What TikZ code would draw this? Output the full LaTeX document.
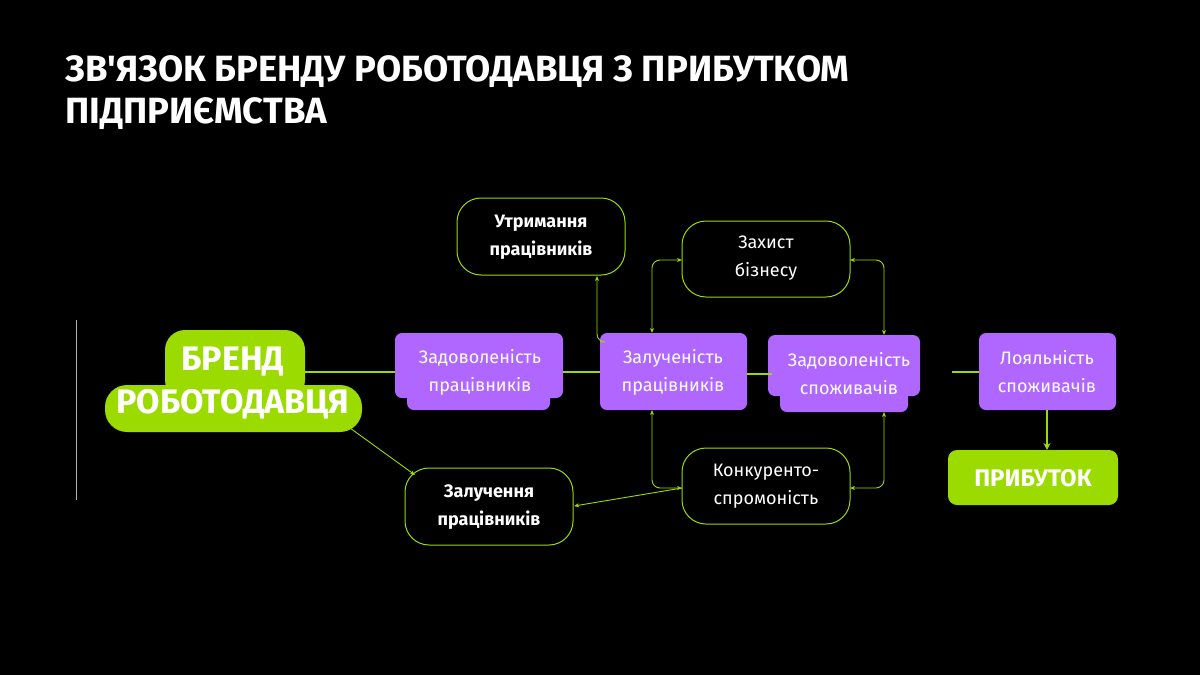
\documentclass[tikz,border=0pt]{standalone}
\usepackage{fontspec}
\setmainfont{Fira Sans}
\newfontfamily\plainfira{Fira Sans}[Ligatures=ResetAll]
\usetikzlibrary{arrows.meta}
\definecolor{lime}{HTML}{9BDB00}
\definecolor{purp}{HTML}{B067FF}
\begin{document}
\begin{tikzpicture}[x=1pt,y=-1pt,
  lbl/.style={text=white,align=center,font=\fontsize{18}{28}\selectfont},
  obox/.style={draw=lime,line width=1pt,fill=black,rounded corners=24pt},
  pbox/.style={fill=purp,rounded corners=7pt},
  thick/.style={draw=lime,line width=2.2pt},
  thin/.style={draw=lime,line width=0.9pt,rounded corners=8pt},
  tip/.style={-{Stealth[length=5pt,width=4pt]}},
  btip/.style={{Stealth[length=5pt,width=4pt]}-{Stealth[length=5pt,width=4pt]}}]
\fill[black] (0,0) rectangle (1200,675);
\useasboundingbox (0,0) rectangle (1200,675);
\node[anchor=north west,text=white,align=left,font=\plainfira\fontsize{36.5}{42}\selectfont\bfseries] (title) at (62,52) {ЗВ'ЯЗОК БРЕНДУ РОБОТОДАВЦЯ З ПРИБУТКОМ\\ПІДПРИЄМСТВА};
\draw[gray!60,line width=0.6pt] (76,320) -- (76,500);
% brand
\fill[lime,rounded corners=20pt] (165,330) rectangle (305,400);
\fill[lime,rounded corners=22pt] (105,385) rectangle (362,432);
\node[text=white,align=center,font=\fontsize{34}{43}\selectfont\bfseries] (brand) at (233,383) {БРЕНД\\РОБОТОДАВЦЯ};
\coordinate (brandR) at (305,372);
% purple boxes
\fill[pbox] (395,333) rectangle (563,398);
\fill[pbox] (407,360) rectangle (550,410);
\node[lbl] (zp) at (480,372) {Задоволеність\\працівників};
\fill[pbox] (600,333) rectangle (747,410);
\node[lbl] (zl) at (673,372) {Залученість\\працівників};
\fill[pbox] (768,335) rectangle (920,396);
\fill[pbox] (780,360) rectangle (908,412);
\node[lbl] (zs) at (849,374) {Задоволеність\\споживачів};
\fill[pbox] (979,333) rectangle (1116,410);
\node[lbl] (lo) at (1047,372) {Лояльність\\споживачів};
\fill[lime,rounded corners=9pt] (948,450) rectangle (1118,505);
\node[text=white,font=\fontsize{24}{28}\selectfont\bfseries] (pr) at (1033,478) {ПРИБУТОК};
% outlined
\draw[obox] (457,198) rectangle (625,275);
\node[lbl,font=\fontsize{18}{28}\selectfont\bfseries] (ut) at (541,237) {Утримання\\працівників};
\draw[obox] (682,221) rectangle (850,297);
\node[lbl] (zb) at (766,258) {Захист\\бізнесу};
\draw[obox] (682,448) rectangle (850,524);
\node[lbl] (ko) at (766,486) {Конкуренто-\\спромоність};
\draw[obox] (405,468) rectangle (573,545);
\node[lbl,font=\fontsize{18}{28}\selectfont\bfseries] (zlu) at (489,507) {Залучення\\працівників};
% connectors
\draw[thick] (brandR) -- (395,372);
\draw[thick] (563,372) -- (600,372);
\draw[thick] (747,374) -- (772,374);
\draw[thick] (952,372) -- (979,372);
\draw[draw=lime,line width=2.2pt,-{Stealth[length=7pt,width=7pt]}] (1047,410) -- (1047,450);
\draw[thin,tip] (350,428) -- (415,475);
\draw[thin,tip] (682,488) -- (574,506);
\draw[thin,tip] (600,342) -- (597,342) -- (597,276);
\draw[thin,btip] (652,333) -- (652,260) -- (682,260);
\draw[thin,btip] (850,260) -- (884,260) -- (884,335);
\draw[thin,btip] (652,410) -- (652,488) -- (682,488);
\draw[thin,btip] (850,488) -- (884,488) -- (884,412);
\end{tikzpicture}
\end{document}
